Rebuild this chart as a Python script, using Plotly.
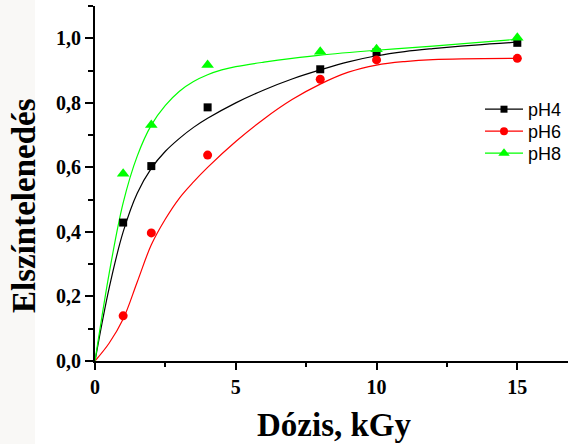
import plotly.graph_objects as go

# measured points
dose = [1, 2, 4, 8, 10, 15]
ph4 = [0.429, 0.604, 0.786, 0.904, 0.957, 0.986]
ph6 = [0.140, 0.397, 0.638, 0.873, 0.933, 0.938]
ph8 = [0.580, 0.731, 0.917, 0.958, 0.966, 1.002]

# fitted curves
fit_x4 = [0, 0.5, 1, 1.5, 2, 2.5, 3, 3.5, 4, 5, 6, 7, 8, 9, 10, 11, 12, 13.5, 15]
fit_ph4 = [0, 0.225, 0.40, 0.52, 0.597, 0.65, 0.69, 0.724, 0.752, 0.80, 0.84, 0.874, 0.902, 0.927, 0.946,
           0.959, 0.968, 0.979, 0.988]
fit_x6 = [0, 0.5, 1, 1.5, 2, 2.5, 3, 3.5, 4, 5, 6, 7, 8, 9, 10, 11, 12, 15]
fit_ph6 = [0, 0.055, 0.13, 0.245, 0.36, 0.44, 0.505, 0.555, 0.60, 0.68, 0.75, 0.81, 0.858, 0.895, 0.917,
           0.928, 0.934, 0.938]
fit_x8 = [0, 0.5, 1, 1.5, 2, 2.5, 3, 3.5, 4, 4.5, 5, 6, 7, 8, 10, 12, 15]
fit_ph8 = [0, 0.27, 0.49, 0.635, 0.731, 0.792, 0.836, 0.866, 0.887, 0.902, 0.912, 0.926, 0.938, 0.948,
           0.963, 0.976, 0.997]

names = ["pH4", "pH6", "pH8"]
colors = ["#000000", "#ff0000", "#00ff00"]
symbols = ["square", "circle", "triangle-up"]
sizes = [8, 9, 11]

y_ticks = [0, 0.2, 0.4, 0.6, 0.8, 1.0]
y_ticktext = ["0,0", "0,2", "0,4", "0,6", "0,8", "1,0"]
x_ticks = [0, 5, 10, 15]
x_ticktext = ["0", "5", "10", "15"]

serif = "Times New Roman, Liberation Serif, serif"
sans = "Arial, Liberation Sans, sans-serif"

legend_ids = ["legend", "legend2", "legend3"]

fig = go.Figure()
for fx, fy, c in zip([fit_x4, fit_x6, fit_x8], [fit_ph4, fit_ph6, fit_ph8], colors):
    fig.add_trace(go.Scatter(x=fx, y=fy, mode="lines", line=dict(color=c, width=1.2, shape="spline", smoothing=1.0),
                             showlegend=False, hoverinfo="skip"))
for my, c, s, sz in zip([ph4, ph6, ph8], colors, symbols, sizes):
    fig.add_trace(go.Scatter(x=dose, y=my, mode="markers", marker=dict(color=c, symbol=s, size=sz, line=dict(width=0)),
                             showlegend=False))
for n, c, s, sz, lg in zip(names, colors, symbols, sizes, legend_ids):
    fig.add_trace(go.Scatter(x=[None], y=[None], mode="lines+markers", name=n, legend=lg,
                             line=dict(color=c, width=1.2), marker=dict(color=c, symbol=s, size=sz - 1)))

W, H = 568, 444
L, R, T, B = 95, 0, 6, 83
pw, ph = W - L - R, H - T - B

def px(xp):
    return (xp - L) / pw

def py(yp):
    return (H - B - yp) / ph

def leg(top):
    return dict(x=px(480), y=py(top), xanchor="left", yanchor="top", bgcolor="rgba(0,0,0,0)",
                font=dict(family=sans, size=18, color="black"), itemwidth=38)

fig.update_layout(
    width=W, height=H,
    margin=dict(l=L, r=R, t=T, b=B),
    paper_bgcolor="white", plot_bgcolor="white",
    showlegend=True,
    legend=leg(91), legend2=leg(113), legend3=leg(135),
    xaxis=dict(range=[0, 16.8], showline=True, linecolor="black", linewidth=2, mirror=False,
               showgrid=False, zeroline=False, ticks="outside", ticklen=7, tickwidth=1.5, tickcolor="black",
               tickvals=x_ticks, ticktext=x_ticktext,
               tickfont=dict(family=serif, size=20, color="black", weight="bold"),
               minor=dict(ticks="outside", ticklen=4, tickwidth=1.5, tickcolor="black", dtick=2.5, tick0=0, showgrid=False)),
    yaxis=dict(range=[0, 1.1001], showline=True, linecolor="black", linewidth=2, mirror=False,
               showgrid=False, zeroline=False, ticks="outside", ticklen=8, tickwidth=1.5, tickcolor="black",
               tickvals=y_ticks, ticktext=y_ticktext,
               tickfont=dict(family=serif, size=20, color="black", weight="bold"),
               minor=dict(ticks="outside", ticklen=5, tickwidth=1.5, tickcolor="black", dtick=0.1, tick0=0, showgrid=False)),
    shapes=[dict(type="rect", xref="paper", yref="paper", x0=px(0), x1=px(35), y0=py(H), y1=py(0),
                 fillcolor="#f9f8f6", line=dict(width=0), layer="below")],
    annotations=[
        dict(text="Dózis, kGy", xref="paper", yref="paper", x=px(334), y=py(437), xanchor="center", yanchor="bottom",
             showarrow=False, font=dict(family=serif, size=33, color="black", weight="bold"), yshift=-8),
        dict(text="Elszíntelenedés", xref="paper", yref="paper", x=px(24), y=py(206), xanchor="center", yanchor="middle",
             textangle=-90, showarrow=False, font=dict(family=serif, size=33, color="black", weight="bold")),
    ],
)

fig.write_html("out.html")
